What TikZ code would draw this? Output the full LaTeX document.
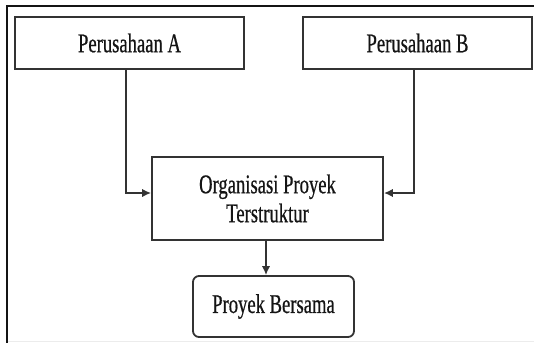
\documentclass[tikz,border=0pt]{standalone}
\usepackage{fontspec}
\usetikzlibrary{arrows.meta}
\newfontfamily\boxfont{Liberation Serif}[FakeStretch=0.69,FakeBold=0.6]
\definecolor{edge}{HTML}{333333}
\definecolor{ink}{HTML}{141414}
\begin{document}
\begin{tikzpicture}[x=1pt,y=-1pt,
  box/.style={draw=edge, line width=1.8pt, inner sep=0pt, text=ink,
    font=\boxfont\fontsize{27}{29}\selectfont, align=center},
  link/.style={draw=edge, line width=1.8pt,
    -{Latex[length=9pt,width=8.5pt]}}]
  \useasboundingbox (0,0) rectangle (534,343);
  % outer frame
  \draw[line width=2.4pt, ink] (534,6) -- (7,6) -- (7,343);
  \draw[line width=1pt, gray!15] (8,341.5) -- (534,341.5);
  % boxes
  \node[box, minimum width=229pt, minimum height=52pt] (A) at (129.5,43) {Perusahaan A};
  \node[box, minimum width=229pt, minimum height=52pt] (B) at (417.5,43) {Perusahaan B};
  \node[box, minimum width=231pt, minimum height=83pt] (org) at (267.5,198.5)
    {Organisasi Proyek\\Terstruktur};
  \node[box, rounded corners=6pt, minimum width=161pt, minimum height=61pt] (pb) at (273.5,306.5)
    {Proyek Bersama};
  % connectors
  \draw[link] ([xshift=-3.5pt]A.south) |- ([yshift=5.5pt]org.west);
  \draw[link] ([xshift=-3.5pt]B.south) |- ([yshift=5.5pt]org.east);
  \draw[link] ([xshift=-1.5pt]org.south) -- ([xshift=-1.5pt]org.south |- pb.north);
\end{tikzpicture}
\end{document}
